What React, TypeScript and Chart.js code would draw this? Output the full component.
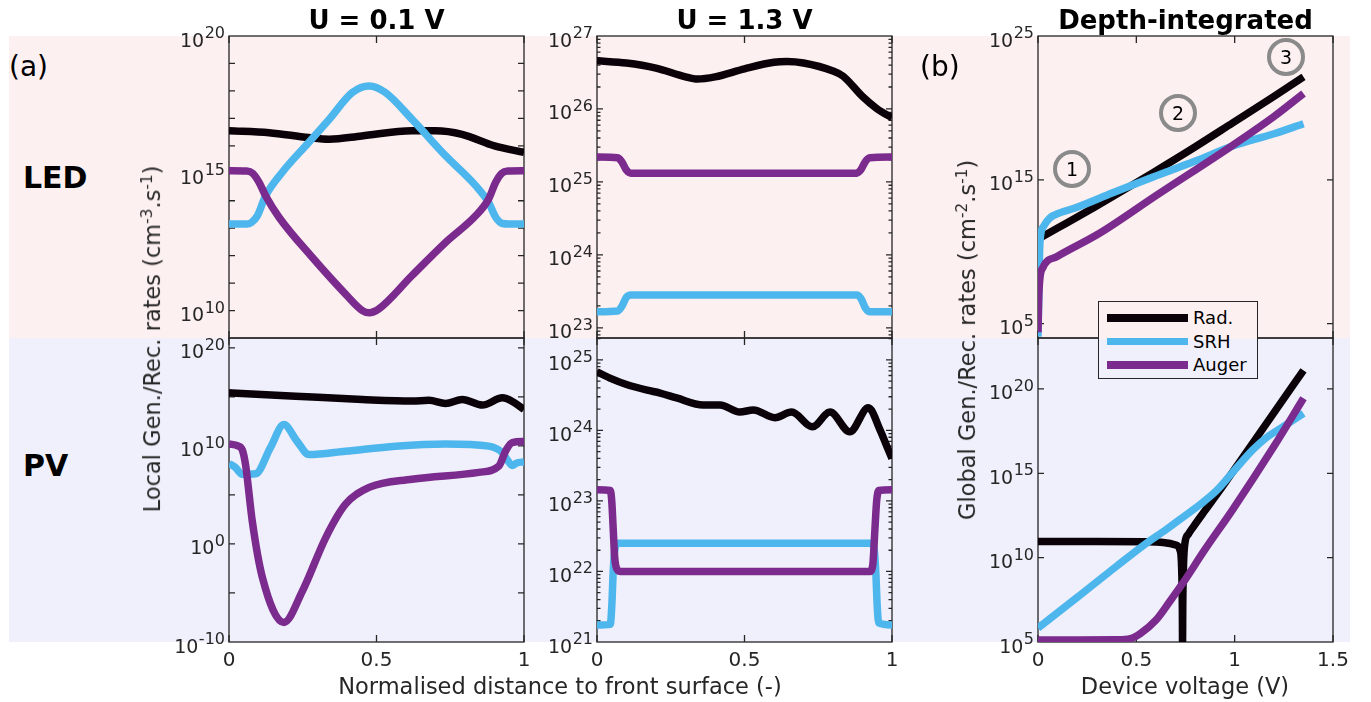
import React, { useEffect, useRef } from 'react';
import { Chart, registerables } from 'chart.js';

Chart.register(...registerables);

const FONT = "'DejaVu Sans', 'Liberation Sans', sans-serif";
Chart.defaults.font.family = FONT;

// ---------- colours ----------
const C_RAD = '#0a0208';
const C_SRH = '#4db6ec';
const C_AUG = '#7b2b8d';
const AXIS = '#262626';
const PINK = '#fdf0f0';
const LAVENDER = '#f0f0fc';

// ---------- labels ----------
const seriesLabels = ['Rad.', 'SRH', 'Auger'];
const columnTitles = ['U = 0.1 V', 'U = 1.3 V', 'Depth-integrated'];
const rowLabels = ['LED', 'PV'];
const markerLabels = ['1', '2', '3'];

// ---------- data (values are log10 of the rate) ----------
// LED, U = 0.1 V
const ledLowRadX = [0, 0.136, 0.27, 0.34, 0.45, 0.62, 0.7, 0.79, 0.9, 1];
const ledLowRadLog = [16.55, 16.48, 16.3, 16.24, 16.36, 16.55, 16.55, 16.42, 16.0, 15.76];
const ledLowSrhX = [0, 0.06, 0.075, 0.096, 0.124, 0.18, 0.27, 0.34, 0.418, 0.475, 0.53, 0.62, 0.734, 0.836, 0.88, 0.904, 0.927, 0.95, 1];
const ledLowSrhLog = [13.15, 13.15, 13.2, 13.45, 14.18, 15.03, 16.12, 16.97, 17.94, 18.18, 17.94, 16.97, 15.64, 14.55, 13.94, 13.4, 13.17, 13.15, 13.15];
const ledLowAugX = [0, 0.06, 0.08, 0.102, 0.124, 0.17, 0.282, 0.395, 0.452, 0.475, 0.508, 0.62, 0.734, 0.836, 0.88, 0.904, 0.925, 0.945, 1];
const ledLowAugLog = [15.09, 15.08, 15.0, 14.67, 14.18, 13.39, 11.94, 10.6, 10.0, 9.92, 10.06, 11.27, 12.48, 13.45, 14.06, 14.67, 15.0, 15.08, 15.09];

// LED, U = 1.3 V
const ledHighRadX = [0, 0.1, 0.2, 0.3, 0.34, 0.4, 0.5, 0.6, 0.644, 0.7, 0.8, 0.834, 0.9, 0.95, 1];
const ledHighRadLog = [26.66, 26.63, 26.56, 26.44, 26.41, 26.44, 26.55, 26.64, 26.65, 26.63, 26.52, 26.45, 26.17, 26.0, 25.88];
const ledHighSrhX = [0, 0.07, 0.085, 0.1, 0.115, 0.88, 0.895, 0.91, 0.925, 1];
const ledHighSrhLog = [23.22, 23.23, 23.3, 23.42, 23.45, 23.45, 23.4, 23.27, 23.22, 23.22];
const ledHighAugX = [0, 0.07, 0.085, 0.1, 0.115, 0.88, 0.895, 0.91, 0.925, 1];
const ledHighAugLog = [25.34, 25.33, 25.27, 25.16, 25.12, 25.12, 25.17, 25.28, 25.33, 25.34];

// LED, depth-integrated (x = device voltage)
const ledIntRadV = [0.01, 0.3, 0.585, 0.8, 0.99, 1.2, 1.35];
const ledIntRadLog = [10.95, 13.2, 15.5, 17.3, 18.96, 20.8, 22.15];
const ledIntSrhV = [0, 0.004, 0.008, 0.012, 0.03, 0.06, 0.11, 0.18, 0.38, 0.585, 0.8, 0.99, 1.2, 1.35];
const ledIntSrhLog = [4.1, 7.0, 10.0, 11.0, 11.8, 12.35, 12.7, 13.0, 14.1, 15.2, 16.3, 17.35, 18.2, 18.9];
const ledIntAugV = [0, 0.003, 0.008, 0.025, 0.095, 0.315, 0.6, 0.99, 1.2, 1.35];
const ledIntAugLog = [4.4, 6.5, 7.9, 8.9, 9.65, 11.3, 13.9, 17.4, 19.4, 21.0];

// PV, U = 0.1 V
const pvLowRadX = [0, 0.226, 0.452, 0.621, 0.678, 0.734, 0.791, 0.859, 0.927, 0.965, 1];
const pvLowRadLog = [15.41, 15.07, 14.73, 14.57, 14.64, 14.33, 14.73, 14.16, 14.9, 14.45, 13.71];
const pvLowSrhX = [0, 0.02, 0.045, 0.09, 0.14, 0.186, 0.23, 0.271, 0.395, 0.565, 0.734, 0.88, 0.927, 0.945, 0.96, 0.975, 1];
const pvLowSrhLog = [8.18, 7.85, 7.1, 7.15, 9.8, 12.18, 10.5, 9.12, 9.46, 9.97, 10.2, 9.97, 9.29, 8.5, 8.0, 8.25, 8.37];
const pvLowAugX = [0, 0.03, 0.045, 0.056, 0.079, 0.113, 0.186, 0.249, 0.328, 0.395, 0.475, 0.62, 0.847, 0.915, 0.938, 0.96, 1];
const pvLowAugLog = [10.2, 10.0, 9.6, 8.1, 2.3, -3.4, -8.0, -4.8, 0.65, 4.05, 5.76, 6.6, 7.3, 7.95, 9.5, 10.34, 10.44];

// PV, U = 1.3 V
const pvHighRadX = [0, 0.05, 0.1, 0.17, 0.214, 0.27, 0.36, 0.417, 0.484, 0.53, 0.603, 0.66, 0.73, 0.79, 0.857, 0.92, 0.96, 0.98, 1];
const pvHighRadLog = [24.83, 24.73, 24.65, 24.57, 24.53, 24.46, 24.36, 24.36, 24.26, 24.29, 24.18, 24.26, 24.05, 24.26, 23.98, 24.32, 24.0, 23.8, 23.6];
const pvHighSrhX = [0, 0.045, 0.05, 0.055, 0.06, 0.07, 0.93, 0.94, 0.945, 0.95, 0.955, 1];
const pvHighSrhLog = [21.24, 21.25, 21.5, 22.0, 22.3, 22.4, 22.4, 22.3, 22.0, 21.5, 21.27, 21.24];
const pvHighAugX = [0, 0.045, 0.05, 0.055, 0.06, 0.07, 0.08, 0.925, 0.935, 0.942, 0.948, 0.955, 1];
const pvHighAugLog = [23.16, 23.15, 23.0, 22.6, 22.2, 22.02, 22.0, 22.0, 22.1, 22.59, 23.0, 23.15, 23.16];

// PV, depth-integrated
const pvIntRadV = [0, 0.3, 0.55, 0.636, 0.7, 0.722, 0.73, 0.734, 0.735, 0.736, 0.74, 0.747, 0.765, 0.79, 0.85, 0.925, 1.0, 1.2, 1.35];
const pvIntRadLog = [10.95, 10.95, 10.94, 10.9, 10.75, 10.45, 9.5, 7.0, 4.9, 7.0, 9.6, 10.85, 11.4, 11.83, 12.8, 14.0, 15.25, 18.6, 21.1];
const pvIntSrhV = [0, 0.2, 0.4, 0.553, 0.65, 0.737, 0.83, 0.91, 1.0, 1.093, 1.16, 1.245, 1.35];
const pvIntSrhLog = [5.83, 7.65, 9.5, 10.87, 11.65, 12.4, 13.2, 14.0, 15.2, 16.4, 17.1, 17.75, 18.55];
const pvIntAugV = [0, 0.2, 0.4, 0.47, 0.52, 0.6, 0.67, 0.737, 0.85, 0.99, 1.2, 1.35];
const pvIntAugLog = [5.12, 5.12, 5.13, 5.2, 5.5, 6.3, 7.4, 8.5, 10.5, 12.85, 16.6, 19.45];

// ---------- axis ticks ----------
const distTicks = [0, 0.5, 1];
const voltTicks = [0, 0.5, 1, 1.5];

const PADL = 100;
const PADT = 24;
const PADR = 30;
const PADB = 50;

type Series = { x: number[]; logY: number[]; color: string };
type PanelCfg = {
  left: number;
  top: number;
  w: number;
  h: number;
  xMax: number;
  xTicks: number[];
  yMin: number;
  yMax: number;
  yLabels: number[];
  yMarks: number[];
  minor: boolean;
  showX: boolean;
  series: Series[];
};

const framePlugin = {
  id: 'frame',
  beforeDatasetsDraw(chart: any, _args: any, o: any) {
    const { ctx, chartArea: a } = chart;
    const xs = chart.scales.x;
    const ys = chart.scales.y;
    ctx.save();
    ctx.strokeStyle = AXIS;
    ctx.lineWidth = 1.3;
    ctx.beginPath();
    for (const v of o.xTicks) {
      const p = xs.getPixelForValue(v);
      ctx.moveTo(p, a.bottom);
      ctx.lineTo(p, a.bottom - 7);
      ctx.moveTo(p, a.top);
      ctx.lineTo(p, a.top + 7);
    }
    for (const e of o.yMarks) {
      const p = ys.getPixelForValue(Math.pow(10, e));
      ctx.moveTo(a.left, p);
      ctx.lineTo(a.left + 6, p);
      ctx.moveTo(a.right, p);
      ctx.lineTo(a.right - 6, p);
    }
    if (o.minor) {
      for (let e = Math.floor(o.yMin); e <= Math.ceil(o.yMax); e++) {
        for (let k = 2; k <= 9; k++) {
          const lv = e + Math.log10(k);
          if (lv <= o.yMin || lv >= o.yMax) continue;
          const p = ys.getPixelForValue(Math.pow(10, lv));
          ctx.moveTo(a.left, p);
          ctx.lineTo(a.left + 3.5, p);
          ctx.moveTo(a.right, p);
          ctx.lineTo(a.right - 3.5, p);
        }
      }
    }
    ctx.stroke();
    ctx.strokeRect(a.left, a.top, a.right - a.left, a.bottom - a.top);
    ctx.restore();
  },
  // y tick labels of the form 10^n, drawn from the scale's own ticks with a true superscript
  afterDraw(chart: any) {
    const { ctx, chartArea: a } = chart;
    const ys = chart.scales.y;
    ctx.save();
    ctx.fillStyle = AXIS;
    ctx.textAlign = 'right';
    ctx.textBaseline = 'alphabetic';
    for (const t of ys.ticks) {
      const p = ys.getPixelForValue(t.value);
      const exp = String(Math.round(Math.log10(t.value)));
      const right = a.left - 4;
      ctx.font = `16px ${FONT}`;
      const supW = ctx.measureText(exp).width;
      ctx.fillText(exp, right, p + 2);
      ctx.font = `19px ${FONT}`;
      ctx.fillText('10', right - supW - 0.5, p + 10.5);
    }
    ctx.restore();
  },
};

function Panel({ cfg }: { cfg: PanelCfg }) {
  const ref = useRef<HTMLCanvasElement>(null);
  useEffect(() => {
    const datasets = cfg.series
      .slice()
      .reverse()
      .map((s) => ({
        data: s.x.map((x, i) => ({ x, y: Math.pow(10, s.logY[i]) })),
        borderColor: s.color,
        backgroundColor: s.color,
        borderWidth: 7.5,
        pointRadius: 0,
        borderJoinStyle: 'round' as const,
        cubicInterpolationMode: 'monotone' as const,
        fill: false,
      }));
    const chart = new Chart(ref.current!, {
      type: 'line',
      data: { datasets },
      options: {
        animation: false,
        responsive: true,
        maintainAspectRatio: false,
        events: [],
        layout: { padding: { left: 0, top: PADT, right: PADR, bottom: 0 } },
        plugins: {
          legend: { display: false },
          tooltip: { enabled: false },
          // @ts-ignore
          frame: {
            xTicks: cfg.xTicks,
            yMarks: cfg.yMarks,
            minor: cfg.minor,
            yMin: cfg.yMin,
            yMax: cfg.yMax,
          },
        },
        scales: {
          x: {
            type: 'linear',
            position: 'bottom',
            min: 0,
            max: cfg.xMax,
            afterBuildTicks: (s: any) => {
              s.ticks = cfg.xTicks.map((v) => ({ value: v }));
            },
            afterFit: (s: any) => {
              s.height = PADB;
            },
            grid: { display: false, drawTicks: false },
            border: { display: false },
            ticks: {
              display: cfg.showX,
              padding: 7,
              color: AXIS,
              font: { family: FONT, size: 20 },
              autoSkip: false,
              maxRotation: 0,
              callback: (v: any) => String(v),
            },
          },
          y: {
            type: 'logarithmic',
            position: 'left',
            min: Math.pow(10, cfg.yMin),
            max: Math.pow(10, cfg.yMax),
            afterBuildTicks: (s: any) => {
              s.ticks = cfg.yLabels.map((e) => ({ value: Math.pow(10, e) }));
            },
            afterFit: (s: any) => {
              s.width = PADL;
            },
            grid: { display: false, drawTicks: false },
            border: { display: false },
            ticks: { display: false, autoSkip: false },
          },
        },
      },
      plugins: [framePlugin as any],
    });
    return () => chart.destroy();
  }, [cfg]);
  return (
    <div
      style={{
        position: 'absolute',
        left: cfg.left - PADL,
        top: cfg.top - PADT,
        width: cfg.w + PADL + PADR,
        height: cfg.h + PADT + PADB,
      }}
    >
      <canvas ref={ref} />
    </div>
  );
}

const COLS = [229, 597, 1038];
const PW = 295;
const ROW_TOP = [36, 338];
const ROW_H = [302, 304];

const panels: PanelCfg[] = [
  {
    left: COLS[0], top: ROW_TOP[0], w: PW, h: ROW_H[0], xMax: 1, xTicks: distTicks,
    yMin: 9, yMax: 20, yLabels: [10, 15, 20], yMarks: [10, 11, 12, 13, 14, 15, 16, 17, 18, 19], minor: false, showX: false,
    series: [
      { x: ledLowRadX, logY: ledLowRadLog, color: C_RAD },
      { x: ledLowSrhX, logY: ledLowSrhLog, color: C_SRH },
      { x: ledLowAugX, logY: ledLowAugLog, color: C_AUG },
    ],
  },
  {
    left: COLS[1], top: ROW_TOP[0], w: PW, h: ROW_H[0], xMax: 1, xTicks: distTicks,
    yMin: 22.86, yMax: 27, yLabels: [23, 24, 25, 26, 27], yMarks: [23, 24, 25, 26], minor: true, showX: false,
    series: [
      { x: ledHighRadX, logY: ledHighRadLog, color: C_RAD },
      { x: ledHighSrhX, logY: ledHighSrhLog, color: C_SRH },
      { x: ledHighAugX, logY: ledHighAugLog, color: C_AUG },
    ],
  },
  {
    left: COLS[2], top: ROW_TOP[0], w: PW, h: ROW_H[0], xMax: 1.5, xTicks: voltTicks,
    yMin: 4, yMax: 25, yLabels: [5, 15, 25], yMarks: [5, 15], minor: false, showX: false,
    series: [
      { x: ledIntRadV, logY: ledIntRadLog, color: C_RAD },
      { x: ledIntSrhV, logY: ledIntSrhLog, color: C_SRH },
      { x: ledIntAugV, logY: ledIntAugLog, color: C_AUG },
    ],
  },
  {
    left: COLS[0], top: ROW_TOP[1], w: PW, h: ROW_H[1], xMax: 1, xTicks: distTicks,
    yMin: -10, yMax: 21, yLabels: [-10, 0, 10, 20], yMarks: [-5, 0, 5, 10, 15, 20], minor: false, showX: true,
    series: [
      { x: pvLowRadX, logY: pvLowRadLog, color: C_RAD },
      { x: pvLowSrhX, logY: pvLowSrhLog, color: C_SRH },
      { x: pvLowAugX, logY: pvLowAugLog, color: C_AUG },
    ],
  },
  {
    left: COLS[1], top: ROW_TOP[1], w: PW, h: ROW_H[1], xMax: 1, xTicks: distTicks,
    yMin: 21, yMax: 25.31, yLabels: [21, 22, 23, 24, 25], yMarks: [22, 23, 24, 25], minor: true, showX: true,
    series: [
      { x: pvHighRadX, logY: pvHighRadLog, color: C_RAD },
      { x: pvHighSrhX, logY: pvHighSrhLog, color: C_SRH },
      { x: pvHighAugX, logY: pvHighAugLog, color: C_AUG },
    ],
  },
  {
    left: COLS[2], top: ROW_TOP[1], w: PW, h: ROW_H[1], xMax: 1.5, xTicks: voltTicks,
    yMin: 5, yMax: 23.02, yLabels: [5, 10, 15, 20], yMarks: [10, 15, 20], minor: false, showX: true,
    series: [
      { x: pvIntRadV, logY: pvIntRadLog, color: C_RAD },
      { x: pvIntSrhV, logY: pvIntSrhLog, color: C_SRH },
      { x: pvIntAugV, logY: pvIntAugLog, color: C_AUG },
    ],
  },
];

const abs = (left: number, top: number, extra: React.CSSProperties = {}): React.CSSProperties => ({
  position: 'absolute',
  left,
  top,
  whiteSpace: 'nowrap',
  lineHeight: 1,
  ...extra,
});

const centered = (cx: number, cy: number, extra: React.CSSProperties = {}): React.CSSProperties =>
  abs(cx, cy, { transform: 'translate(-50%, -50%)', ...extra });

const supStyle: React.CSSProperties = { fontSize: '0.68em', verticalAlign: '0.55em' };

const markerPos = [
  [1072, 169],
  [1178, 113],
  [1286, 57],
];

const legendColors = [C_RAD, C_SRH, C_AUG];

export default function App() {
  return (
    <div
      style={{
        position: 'absolute',
        left: 0,
        top: 0,
        width: 1371,
        height: 702,
        background: '#fff',
        fontFamily: FONT,
        color: AXIS,
        overflow: 'hidden',
      }}
    >
      {/* background bands */}
      <div style={abs(9, 36, { width: 1341, height: 302, background: PINK })} />
      <div style={abs(9, 338, { width: 1341, height: 304, background: LAVENDER })} />

      {panels.map((p, i) => (
        <Panel key={i} cfg={p} />
      ))}

      {/* column titles */}
      {columnTitles.map((t, i) => (
        <div key={t} style={centered(COLS[i] + PW / 2, 20, { fontSize: 26, fontWeight: 'bold', color: '#000' })}>
          {t}
        </div>
      ))}

      {/* row labels */}
      <div style={abs(23, 163, { fontSize: 30, fontWeight: 'bold', color: '#000' })}>{rowLabels[0]}</div>
      <div style={abs(23, 451, { fontSize: 30, fontWeight: 'bold', color: '#000' })}>{rowLabels[1]}</div>
      <div style={abs(9, 53, { fontSize: 28, color: '#000' })}>(a)</div>
      <div style={abs(920, 53, { fontSize: 28, color: '#000' })}>(b)</div>

      {/* axis titles */}
      <div style={centered(152, 339, { fontSize: 22.5, transform: 'translate(-50%, -50%) rotate(-90deg)' })}>
        Local Gen./Rec. rates (cm<span style={supStyle}>-3</span>.s<span style={supStyle}>-1</span>)
      </div>
      <div style={centered(967, 340, { fontSize: 22.5, transform: 'translate(-50%, -50%) rotate(-90deg)' })}>
        Global Gen./Rec. rates (cm<span style={supStyle}>-2</span>.s<span style={supStyle}>-1</span>)
      </div>
      <div style={centered(560, 686, { fontSize: 22.5 })}>Normalised distance to front surface (-)</div>
      <div style={centered(1185, 686, { fontSize: 22.5 })}>Device voltage (V)</div>

      {/* circled markers */}
      {markerLabels.map((m, i) => (
        <div
          key={m}
          style={centered(markerPos[i][0], markerPos[i][1], {
            width: 30,
            height: 30,
            border: '4px solid #8a8a8a',
            borderRadius: '50%',
            display: 'flex',
            alignItems: 'center',
            justifyContent: 'center',
            fontSize: 19,
            color: '#000',
          })}
        >
          {m}
        </div>
      ))}

      {/* legend */}
      <div
        style={abs(1098, 301, {
          width: 160,
          height: 78,
          boxSizing: 'border-box',
          border: `1.3px solid ${AXIS}`,
          background: `linear-gradient(to bottom, ${PINK} 0px, ${PINK} 37px, ${LAVENDER} 37px, ${LAVENDER} 100%)`,
        })}
      >
        {seriesLabels.map((l, i) => (
          <React.Fragment key={l}>
            <div
              style={abs(8, 12 + i * 23.7, {
                width: 81,
                height: 7.5,
                background: legendColors[i],
              })}
            />
            <div style={centered(94, 16 + i * 23.7, { fontSize: 18, color: '#000', transform: 'translate(0, -50%)' })}>
              {l}
            </div>
          </React.Fragment>
        ))}
      </div>
    </div>
  );
}
